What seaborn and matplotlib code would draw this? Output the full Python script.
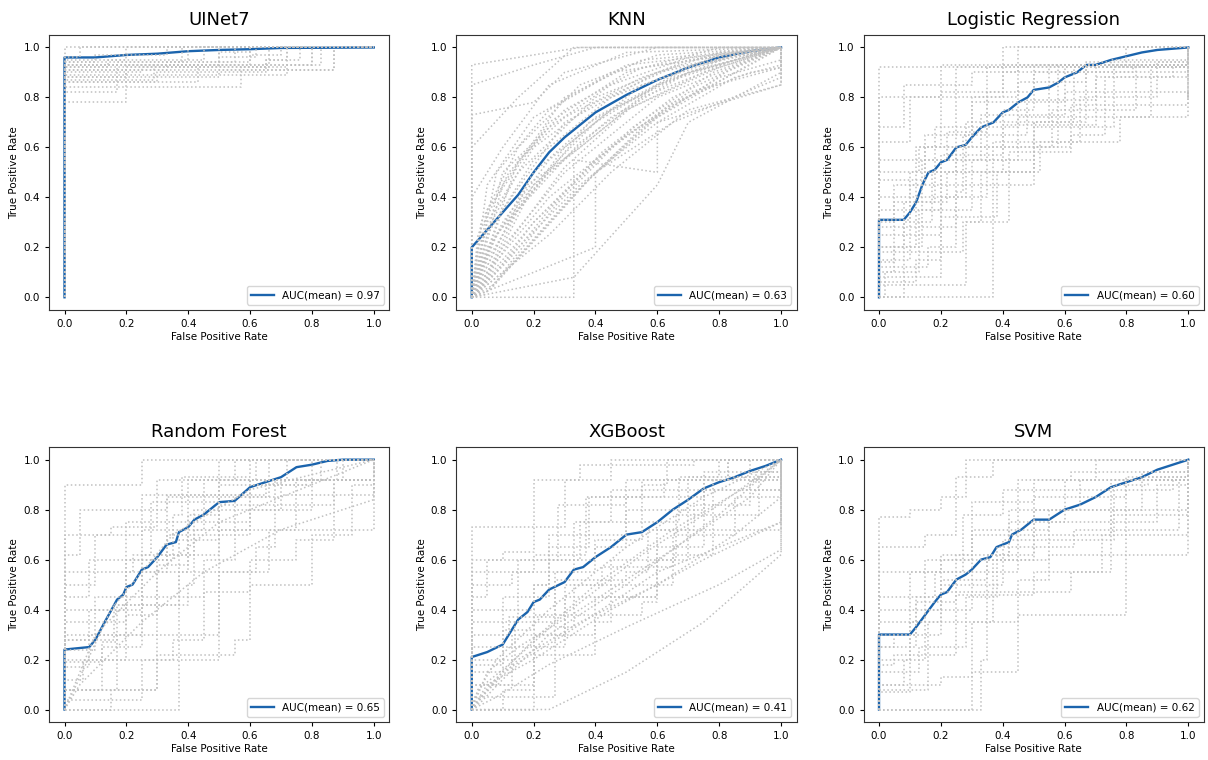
# -*- coding: utf-8 -*-
"""
ROC curves of six classifiers: per-fold curves (grey, dotted) and mean curve.
"""

import matplotlib
matplotlib.use("Agg")
import matplotlib.pyplot as plt
import pandas as pd
import seaborn as sns

MODELS = ["UINet7", "KNN", "Logistic Regression", "Random Forest", "XGBoost", "SVM"]
AUCS = [0.97, 0.63, 0.60, 0.65, 0.41, 0.62]

# Mean ROC curves (fpr, tpr).
MEAN_FPR = {
    "UINet7": [0, 0, 0.1, 0.2, 0.3, 0.4, 0.5, 0.6, 0.7, 1.0],
    "KNN": [0, 0, 0.05, 0.1, 0.15, 0.2, 0.25, 0.3, 0.35, 0.4, 0.5, 0.6, 0.7, 0.8, 0.9, 1.0],
    "Logistic Regression": [0, 0, 0.08, 0.1, 0.12, 0.14, 0.16, 0.18, 0.2, 0.22, 0.25, 0.28, 0.3,
                            0.33, 0.37, 0.4, 0.42, 0.45, 0.48, 0.5, 0.55, 0.58, 0.6, 0.64, 0.67,
                            0.7, 0.75, 0.8, 0.85, 0.9, 1.0],
    "Random Forest": [0, 0, 0.08, 0.1, 0.13, 0.17, 0.19, 0.2, 0.22, 0.25, 0.27, 0.3, 0.33, 0.36,
                      0.37, 0.4, 0.42, 0.45, 0.5, 0.55, 0.6, 0.65, 0.7, 0.75, 0.8, 0.85, 0.9, 1.0],
    "XGBoost": [0, 0, 0.05, 0.1, 0.12, 0.15, 0.18, 0.2, 0.22, 0.25, 0.3, 0.33, 0.36, 0.4, 0.45,
                0.5, 0.55, 0.6, 0.65, 0.7, 0.75, 0.8, 0.85, 0.9, 0.95, 1.0],
    "SVM": [0, 0, 0.1, 0.12, 0.15, 0.18, 0.2, 0.22, 0.25, 0.28, 0.3, 0.33, 0.36, 0.38, 0.42,
            0.43, 0.46, 0.5, 0.55, 0.6, 0.65, 0.7, 0.75, 0.8, 0.85, 0.9, 1.0],
}
MEAN_TPR = {
    "UINet7": [0, 0.96, 0.96, 0.97, 0.975, 0.985, 0.99, 0.993, 0.998, 1.0],
    "KNN": [0, 0.2, 0.27, 0.34, 0.41, 0.5, 0.58, 0.64, 0.69, 0.74, 0.81, 0.87, 0.92, 0.96,
            0.985, 1.0],
    "Logistic Regression": [0, 0.31, 0.31, 0.34, 0.38, 0.45, 0.5, 0.51, 0.54, 0.55, 0.6, 0.61,
                            0.64, 0.68, 0.7, 0.74, 0.75, 0.78, 0.8, 0.83, 0.84, 0.86, 0.88, 0.9,
                            0.93, 0.93, 0.95, 0.965, 0.98, 0.99, 1.0],
    "Random Forest": [0, 0.24, 0.25, 0.28, 0.35, 0.44, 0.46, 0.49, 0.5, 0.56, 0.57, 0.61, 0.66,
                      0.67, 0.71, 0.73, 0.76, 0.78, 0.83, 0.835, 0.89, 0.91, 0.93, 0.97, 0.98,
                      0.995, 1.0, 1.0],
    "XGBoost": [0, 0.21, 0.23, 0.26, 0.3, 0.36, 0.39, 0.43, 0.44, 0.48, 0.51, 0.56, 0.57, 0.61,
                0.65, 0.7, 0.71, 0.75, 0.8, 0.84, 0.885, 0.91, 0.93, 0.955, 0.975, 1.0],
    "SVM": [0, 0.3, 0.3, 0.33, 0.38, 0.43, 0.46, 0.47, 0.52, 0.54, 0.56, 0.6, 0.61, 0.65, 0.67,
            0.7, 0.72, 0.76, 0.76, 0.8, 0.82, 0.85, 0.89, 0.91, 0.93, 0.96, 1.0],
}

# Per-fold ROC curves.  Every curve starts at (0, 0) and ends at (1, 1);
# only the inner corner points are listed here.
# Step curves: move right to x, then up to y.
FOLD_STEPS = {
    "UINet7": [
        [(0, 0.78), (0.2, 0.92), (0.5, 1)],
        [(0, 0.82), (0.17, 0.94), (0.4, 1)],
        [(0, 0.84), (0.57, 0.92), (0.72, 1)],
        [(0, 0.86), (0.43, 0.94), (0.6, 1)],
        [(0, 0.87), (0.29, 0.93), (0.83, 1)],
        [(0, 0.88), (0.5, 0.91), (0.87, 1)],
        [(0, 0.89), (0.72, 0.93), (0.8, 1)],
        [(0, 0.90), (0.25, 0.92), (0.66, 1)],
        [(0, 0.91), (0.33, 0.94), (0.55, 1)],
        [(0, 0.92), (0.14, 0.95), (0.2, 1)],
        [(0, 0.93), (0.6, 0.97), (0.7, 1)],
        [(0, 0.94), (0.1, 0.97), (0.33, 1)],
        [(0, 0.95), (0.45, 1)],
        [(0, 0.93), (0.8, 1)],
        [(0, 0.92), (0.65, 0.95), (0.76, 1)],
        [(0, 0.91), (0.87, 1)],
        [(0, 0.96), (0.05, 1)],
        [(0, 0.94), (0.38, 1)],
        [(0, 0.93), (0.5, 0.96), (0.62, 1)],
        [(0, 0.86), (0.3, 0.9), (0.65, 0.95), (0.72, 1)],
        [(0, 0.88), (0.2, 0.93), (0.5, 0.98), (0.6, 1)],
        [(0, 1.0)],
    ],
    "KNN": [],
    "Logistic Regression": [
        [(0, 0.08), (0.2, 0.4), (0.28, 0.7), (0.55, 0.93)],
        [(0, 0.31), (0.1, 0.5), (0.25, 0.8), (0.45, 0.93)],
        [(0, 0.1), (0.05, 0.2), (0.14, 0.55), (0.33, 0.73), (0.6, 0.92)],
        [(0, 0.0), (0.37, 0.45), (0.5, 0.7), (0.67, 0.93), (0.8, 1)],
        [(0, 0.62), (0.1, 0.8), (0.2, 0.93)],
        [(0, 0.8), (0.25, 0.92)],
        [(0, 0.2), (0.12, 0.4), (0.35, 0.6), (0.56, 0.75), (0.83, 0.93)],
        [(0, 0.15), (0.1, 0.25), (0.2, 0.55), (0.45, 0.72), (0.88, 0.92)],
        [(0, 0.25), (0.1, 0.45), (0.25, 0.6), (0.62, 0.77)],
        [(0, 0.05), (0.08, 0.3), (0.17, 0.5), (0.4, 0.69), (0.7, 0.88), (1, 0.93)],
        [(0, 0.35), (0.2, 0.57), (0.4, 0.75), (0.5, 0.9), (0.82, 0.93)],
        [(0.02, 0.1), (0.13, 0.35), (0.3, 0.55), (0.5, 0.68), (0.76, 0.92)],
        [(0, 0.47), (0.15, 0.65), (0.3, 0.8), (0.4, 0.93)],
        [(0, 0.12), (0.16, 0.2), (0.25, 0.45), (0.37, 0.62), (0.65, 0.8), (0.9, 0.94)],
        [(0, 0.55), (0.22, 0.66), (0.35, 0.92)],
        [(0.08, 0.05), (0.28, 0.3), (0.42, 0.58), (0.62, 0.65), (0.73, 0.88), (0.95, 0.93)],
        [(0, 0.28), (0.05, 0.38), (0.22, 0.5), (0.5, 0.6), (0.58, 0.86), (0.67, 0.94)],
        [(0, 0.68), (0.08, 0.85), (0.3, 0.9), (0.45, 1)],
        [(0, 0.4), (0.12, 0.6), (0.3, 0.78), (0.6, 0.82), (1, 0.8)],
        [(0, 0.18), (0.27, 0.3), (0.33, 0.5), (0.52, 0.62), (0.78, 0.72), (1, 0.77)],
        [(0, 0.92), (0.4, 1)],
        [(0, 0.3), (0.05, 0.45), (0.15, 0.6), (0.35, 0.82), (0.5, 0.93), (0.75, 0.95)],
        [(0, 0.06), (0.12, 0.15), (0.2, 0.32), (0.38, 0.5), (0.5, 0.7), (0.63, 0.92)],
        [(0, 0.2), (0.08, 0.38), (0.18, 0.68), (0.45, 0.86), (0.58, 0.93)],
        [(0, 0.14), (0.05, 0.28), (0.25, 0.42), (0.27, 0.65), (0.48, 0.79), (0.7, 0.92)],
        [(0, 0.5), (0.13, 0.6), (0.2, 0.82), (0.4, 0.9), (1, 0.93)],
    ],
    "Random Forest": [
        [(0, 0.08), (0.17, 0.3), (0.25, 0.55), (0.4, 0.75), (0.6, 0.92)],
        [(0, 0.24), (0.1, 0.4), (0.2, 0.6), (0.33, 0.85), (0.5, 0.92), (0.83, 1)],
        [(0, 0.0), (0.37, 0.55), (0.5, 0.72), (0.75, 0.92)],
        [(0, 0.17), (0.08, 0.3), (0.2, 0.45), (0.3, 0.62), (0.5, 0.85), (0.66, 1)],
        [(0, 0.5), (0.1, 0.7), (0.25, 0.86), (0.4, 0.92), (0.72, 1)],
        [(0, 0.9), (0.25, 1)],
        [(0, 0.28), (0.16, 0.42), (0.37, 0.68), (0.5, 0.82), (0.87, 0.92)],
        [(0, 0.08), (0.12, 0.25), (0.25, 0.3), (0.5, 0.55), (0.66, 0.72), (1, 0.84)],
        [(0, 0.35), (0.2, 0.55), (0.33, 0.7), (0.6, 0.9), (0.8, 1)],
        [(0, 0.12), (0.06, 0.2), (0.35, 0.28), (0.45, 0.47), (0.6, 0.6), (0.75, 0.68), (0.87, 0.92)],
        [(0, 0.7), (0.15, 0.73), (0.3, 0.92), (0.55, 1)],
        [(0, 0.55), (0.22, 0.62), (0.28, 0.83), (0.5, 0.92), (0.5, 1)],
        [(0, 0.04), (0.25, 0.2), (0.5, 0.2), (0.5, 0.55), (0.62, 0.65), (0.68, 0.92)],
        [(0, 0.19), (0.12, 0.27), (0.17, 0.42), (0.4, 0.5), (0.42, 0.8), (0.7, 0.86)],
        [(0, 0.45), (0.08, 0.6), (0.35, 0.78), (0.38, 0.93), (0.6, 1)],
        [(0, 0.08), (0.3, 0.22), (0.55, 0.28), (0.6, 0.5), (0.8, 0.7), (0.93, 0.9)],
        [(0, 0.62), (0.05, 0.8), (0.33, 0.86), (0.6, 0.92), (0.62, 1)],
        [(0, 0.3), (0.25, 0.72), (0.45, 0.92), (0.88, 1)],
        [(0, 0.2), (0.2, 0.38), (0.3, 0.58), (0.4, 0.78), (0.5, 0.9), (0.78, 0.92)],
        [(0, 0.0), (0.15, 0.08), (0.3, 0.45), (0.45, 0.6), (0.55, 0.85), (0.7, 0.92), (0.9, 1)],
        [(0, 0.28), (0.08, 0.4), (0.25, 0.62), (0.42, 0.72), (0.6, 0.8), (0.8, 0.92)],
        [(0, 0.4), (0.1, 0.45), (0.2, 0.75), (0.4, 0.86), (0.65, 0.92), (1, 0.95)],
    ],
    "XGBoost": [
        [(0, 0.73), (0.3, 0.92), (0.45, 1)],
        [(0, 0.2), (0.14, 0.35), (0.27, 0.55), (0.4, 0.65), (0.5, 0.8), (0.75, 0.92), (0.83, 1)],
        [(0, 0.0), (0.2, 0.22), (0.4, 0.45), (0.6, 0.6), (0.7, 0.88), (1, 0.93)],
        [(0, 0.4), (0.2, 0.5), (0.25, 0.6), (0.4, 0.68), (0.55, 0.9), (0.63, 1)],
        [(0, 0.6), (0.1, 0.63), (0.2, 0.92), (0.35, 0.98), (0.72, 1)],
        [(0, 0.3), (0.12, 0.37), (0.27, 0.52), (0.5, 0.55), (0.57, 0.72), (0.72, 0.82), (0.9, 0.92)],
        [(0, 0.1), (0.2, 0.25), (0.3, 0.45), (0.6, 0.5), (0.65, 0.7), (0.85, 0.85), (1, 0.9)],
        [(0, 0.5), (0.13, 0.55), (0.33, 0.75), (0.67, 0.93), (0.8, 1)],
        [(0, 0.25), (0.2, 0.3), (0.4, 0.35), (0.45, 0.6), (0.66, 0.78), (0.93, 0.93)],
        [(0, 0.15), (0.1, 0.45), (0.25, 0.7), (0.5, 0.85), (0.75, 0.95)],
        [(0, 0.35), (0.15, 0.6), (0.35, 0.75), (0.45, 0.88), (0.7, 0.93), (0.9, 1)],
        [(0, 0.05), (0.27, 0.33), (0.33, 0.5), (0.6, 0.72), (1, 0.8)],
        [(0, 0.1), (0.13, 0.3), (0.3, 0.5), (0.42, 0.57), (0.65, 0.62), (0.78, 0.92), (0.92, 0.95)],
        [(0, 0.18), (0.1, 0.32), (0.2, 0.5), (0.25, 0.65), (0.38, 0.85), (0.55, 0.92)],
        [(0, 0.0), (0.1, 0.08), (0.2, 0.38), (0.55, 0.43), (0.6, 0.65), (0.75, 0.88), (1, 0.95)],
        [(0, 0.55), (0.2, 0.62), (0.37, 0.85), (0.62, 0.92), (0.83, 1)],
        [(0, 0.45), (0.05, 0.6), (0.28, 0.82), (0.5, 0.92), (0.85, 0.93)],
    ],
    "SVM": [
        [(0, 0.07), (0.1, 0.3), (0.2, 0.47), (0.35, 0.6), (0.5, 0.8), (0.8, 0.93)],
        [(0, 0.3), (0.12, 0.43), (0.25, 0.62), (0.42, 0.75), (0.6, 0.92), (1, 0.93)],
        [(0, 0.0), (0.33, 0.2), (0.35, 0.47), (0.62, 0.55), (0.75, 0.78), (1, 0.8)],
        [(0, 0.77), (0.1, 0.8), (0.2, 0.85), (0.28, 1.0)],
        [(0, 0.65), (0.15, 0.7), (0.25, 0.93), (0.37, 1)],
        [(0, 0.15), (0.13, 0.25), (0.28, 0.45), (0.38, 0.65), (0.63, 0.72), (0.97, 0.92)],
        [(0, 0.08), (0.1, 0.08), (0.16, 0.35), (0.25, 0.46), (0.5, 0.55), (0.72, 0.7), (1, 0.73)],
        [(0, 0.45), (0.18, 0.55), (0.3, 0.7), (0.45, 0.92), (0.62, 0.95)],
        [(0, 0.2), (0.1, 0.35), (0.2, 0.5), (0.4, 0.68), (0.76, 0.9), (0.87, 0.93)],
        [(0, 0.35), (0.15, 0.6), (0.3, 0.83), (0.5, 0.92), (0.7, 1)],
        [(0, 0.1), (0.2, 0.13), (0.3, 0.35), (0.45, 0.52), (0.55, 0.62), (0.8, 0.65), (0.8, 0.8)],
        [(0, 0.25), (0.05, 0.3), (0.1, 0.55), (0.27, 0.78), (0.4, 0.88), (0.95, 0.92)],
        [(0, 0.55), (0.2, 0.62), (0.3, 0.72), (0.55, 0.8), (0.85, 0.95)],
        [(0, 0.0), (0.3, 0.15), (0.45, 0.38), (0.8, 0.38), (0.8, 0.62), (1, 0.72)],
        [(0, 0.1), (0.08, 0.2), (0.15, 0.4), (0.3, 0.55), (0.45, 0.7), (0.75, 0.92), (1, 0.93)],
        [(0, 0.25), (0.12, 0.45), (0.2, 0.6), (0.42, 0.8), (0.65, 0.92)],
        [(0, 0.18), (0.05, 0.22), (0.25, 0.35), (0.37, 0.6), (0.55, 0.75), (0.9, 0.9), (1, 0.92)],
        [(0, 0.4), (0.2, 0.52), (0.35, 0.62), (0.5, 0.85), (0.8, 0.92)],
    ],
}

# Polyline curves (straight segments between threshold points).
FOLD_LINES = {
    "KNN": [
        [(0.1, 0.35), (0.3, 0.7), (0.6, 0.9)],
        [(0.05, 0.25), (0.2, 0.55), (0.45, 0.8), (0.8, 0.97)],
        [(0.1, 0.2), (0.3, 0.5), (0.6, 0.8), (0.9, 0.95)],
        [(0.15, 0.2), (0.35, 0.45), (0.6, 0.7), (0.85, 0.88), (1, 0.93)],
        [(0.05, 0.15), (0.2, 0.45), (0.5, 0.75), (0.8, 0.92)],
        [(0.02, 0.2), (0.15, 0.5), (0.4, 0.8), (0.7, 0.95)],
        [(0.1, 0.45), (0.3, 0.8), (0.55, 0.95)],
        [(0.2, 0.3), (0.4, 0.55), (0.65, 0.78), (0.9, 0.9), (1, 0.92)],
        [(0.25, 0.25), (0.45, 0.5), (0.7, 0.75), (1, 0.85)],
        [(0.33, 0.08), (0.6, 0.45), (0.7, 0.7), (1, 0.9)],
        [(0.33, 0.0), (0.33, 0.55), (0.6, 0.5), (0.6, 0.7), (1, 0.85)],
        [(0.05, 0.1), (0.25, 0.4), (0.5, 0.65), (0.8, 0.88), (1, 0.95)],
        [(0, 0.93), (0.35, 1.0)],
        [(0, 0.85), (0.2, 0.93), (0.4, 1)],
        [(0, 0.6), (0.15, 0.8), (0.33, 1)],
        [(0, 0.4), (0.1, 0.6), (0.25, 0.85), (0.5, 0.98)],
        [(0.05, 0.35), (0.25, 0.7), (0.5, 0.9), (0.8, 1)],
        [(0.08, 0.1), (0.2, 0.3), (0.45, 0.6), (0.7, 0.82), (1, 0.92)],
        [(0.12, 0.3), (0.3, 0.6), (0.55, 0.85), (0.85, 0.97)],
        [(0.03, 0.05), (0.15, 0.35), (0.35, 0.62), (0.6, 0.85), (0.9, 0.97)],
        [(0.4, 0.2), (0.4, 0.5), (0.65, 0.7), (1, 0.88)],
        [(0, 0.73), (0.2, 0.78), (0.3, 0.9), (0.6, 1)],
        [(0.07, 0.05), (0.22, 0.25), (0.4, 0.5), (0.62, 0.75), (0.9, 0.93)],
        [(0.1, 0.1), (0.28, 0.38), (0.52, 0.68), (0.78, 0.9)],
        [(0.04, 0.06), (0.18, 0.4), (0.38, 0.7), (0.65, 0.88)],
        [(0.02, 0.02), (0.12, 0.22), (0.3, 0.52), (0.55, 0.8), (0.85, 0.95)],
        [(0.03, 0.3), (0.15, 0.6), (0.35, 0.85), (0.6, 0.97)],
        [(0.05, 0.45), (0.2, 0.72), (0.45, 0.9)],
        [(0.08, 0.5), (0.25, 0.75), (0.5, 0.93)],
        [(0.02, 0.25), (0.12, 0.5), (0.3, 0.75), (0.55, 0.92)],
        [(0.1, 0.5), (0.25, 0.68), (0.45, 0.85), (0.7, 0.96)],
        [(0.05, 0.3), (0.2, 0.6), (0.4, 0.78), (0.65, 0.92)],
        [(0.15, 0.55), (0.3, 0.72), (0.55, 0.88), (0.8, 0.98)],
        [(0.02, 0.1), (0.1, 0.3), (0.25, 0.55), (0.45, 0.75), (0.7, 0.9)],
        [(0.05, 0.2), (0.2, 0.45), (0.4, 0.7), (0.6, 0.85), (0.85, 0.97)],
        [(0.08, 0.25), (0.25, 0.5), (0.45, 0.72), (0.7, 0.9)],
        [(0.12, 0.15), (0.25, 0.35), (0.42, 0.58), (0.65, 0.8), (0.9, 0.95)],
        [(0.18, 0.45), (0.35, 0.6), (0.5, 0.75), (0.75, 0.9)],
        [(0.01, 0.04), (0.06, 0.2), (0.2, 0.5), (0.4, 0.72), (0.7, 0.92)],
        [(0.04, 0.01), (0.14, 0.15), (0.32, 0.4), (0.55, 0.68), (0.82, 0.9)],
        [(0.06, 0.03), (0.18, 0.2), (0.36, 0.45), (0.6, 0.72), (0.88, 0.92)],
    ],
    "Random Forest": [
        [(0.1, 0.3), (0.3, 0.55), (0.5, 0.75), (0.8, 0.9)],
        [(0.05, 0.1), (0.25, 0.35), (0.45, 0.55), (0.7, 0.72), (1, 0.84)],
        [(0.02, 0.05), (0.15, 0.4), (0.35, 0.7), (0.6, 0.88)],
    ],
    "XGBoost": [
        [(0.1, 0.15), (0.3, 0.3), (0.6, 0.55), (1, 0.75)],
        [(0.05, 0.1), (0.2, 0.2), (0.45, 0.4), (0.75, 0.6), (1, 0.75)],
        [(0.08, 0.05), (0.25, 0.18), (0.5, 0.33), (0.8, 0.5), (1, 0.64)],
        [(0.25, 0.0), (0.5, 0.15), (0.75, 0.35), (1, 0.62)],
        [(0.05, 0.15), (0.15, 0.25), (0.35, 0.4), (0.6, 0.6), (0.9, 0.85)],
        [(0.02, 0.08), (0.12, 0.18), (0.3, 0.38), (0.55, 0.62), (0.8, 0.82)],
        [(0.03, 0.03), (0.1, 0.12), (0.25, 0.3), (0.5, 0.5), (0.8, 0.78)],
        [(0.04, 0.06), (0.15, 0.2), (0.35, 0.35), (0.6, 0.5), (0.85, 0.7), (1, 0.85)],
        [(0.06, 0.1), (0.2, 0.28), (0.4, 0.5), (0.65, 0.72), (0.9, 0.9)],
        [(0.01, 0.05), (0.08, 0.2), (0.25, 0.4), (0.5, 0.65), (0.75, 0.85)],
    ],
}

GREY = "#c0c0c0"
BLUE = "#1b64ad"


def curves_frame(curves):
    """Long table of fold curves, each closed with (0, 0) and (1, 1)."""
    rows = []
    for i, pts in enumerate(curves):
        for x, y in [(0, 0)] + pts + [(1, 1)]:
            rows.append({"fold": i, "fpr": x, "tpr": y})
    return pd.DataFrame(rows, columns=["fold", "fpr", "tpr"])


plt.rcParams["font.family"] = ["DejaVu Sans"]
fig, axes = plt.subplots(2, 3, figsize=(12.08, 7.6), dpi=100)
fig.subplots_adjust(left=0.0406, right=0.9965, bottom=0.05, top=0.954,
                    wspace=0.197, hspace=0.5)

for ax, name, auc in zip(axes.flat, MODELS, AUCS):
    mean_df = pd.DataFrame({"fpr": MEAN_FPR[name], "tpr": MEAN_TPR[name]})
    sns.lineplot(data=mean_df, x="fpr", y="tpr", ax=ax, sort=False, estimator=None,
                 color=BLUE, linewidth=1.7, label=f"AUC(mean) = {auc:.2f}", zorder=2)

    steps = FOLD_STEPS.get(name, [])
    if steps:
        sns.lineplot(data=curves_frame(steps), x="fpr", y="tpr", units="fold",
                     estimator=None, sort=False, ax=ax, color=GREY, linestyle=":",
                     linewidth=1.1, drawstyle="steps-post", legend=False, zorder=3)
    lines = FOLD_LINES.get(name, [])
    if lines:
        sns.lineplot(data=curves_frame(lines), x="fpr", y="tpr", units="fold",
                     estimator=None, sort=False, ax=ax, color=GREY, linestyle=":",
                     linewidth=1.1, legend=False, zorder=3)

    ax.set_xlim(-0.05, 1.05)
    ax.set_ylim(-0.05, 1.05)
    ax.set_title(name, fontsize=13, pad=7)
    ax.set_xlabel("False Positive Rate", fontsize=7.5, labelpad=2)
    ax.set_ylabel("True Positive Rate", fontsize=7.5, labelpad=3)
    ax.tick_params(labelsize=7.5, length=3)
    for sp in ax.spines.values():
        sp.set_color("#333333")
    ax.legend(loc="lower right", fontsize=7.5, handlelength=2.2)

fig.savefig("out.png", dpi=100)
